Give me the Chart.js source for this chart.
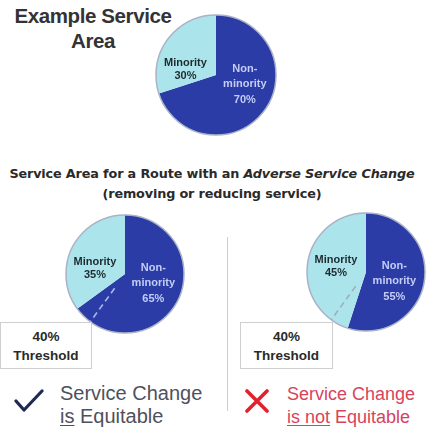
<!DOCTYPE html>
<html>
<head>
<meta charset="utf-8">
<script src="https://cdn.jsdelivr.net/npm/chart.js@4"></script>
<style>
  html, body { margin: 0; padding: 0; background: #fff; overflow: hidden; }
  #stage { position: relative; width: 427px; height: 436px; font-family: "Liberation Sans", Arial, sans-serif; }
  canvas, .txt, .box, .rule, svg { position: absolute; }
  .txt { white-space: nowrap; }
  .title { left: 0; width: 186px; top: 3px; text-align: center; font-weight: bold; font-size: 20.5px; line-height: 25px; color: #333; letter-spacing: -0.4px; }
  .sub { left: 0; width: 424px; top: 164px; text-align: center; font-family: "DejaVu Sans", sans-serif; font-weight: bold; font-size: 12.8px; line-height: 20px; color: #2a2a2a; letter-spacing: -0.15px; }
  .box { border: 1px solid #cfcfcf; background: #fff; text-align: center; font-weight: bold; font-size: 13.5px; line-height: 19px; color: #2a2a2a; padding-top: 4px; box-sizing: border-box; }
  .rule { left: 227px; top: 237px; width: 1px; height: 174px; background: #cdcdcd; }
  .verdict { line-height: 23px; }
  .verdict u { text-decoration-thickness: 1px; text-underline-offset: 2px; }
</style>
</head>
<body>
<div id="stage">
  <div class="txt title">Example Service<br>Area</div>
  <div class="txt sub">Service Area for a Route with an <i>Adverse Service Change</i><br>(removing or reducing service)</div>

  <canvas id="pieExample" width="124" height="124" style="left:154px;top:13px"></canvas>
  <canvas id="pieEquitable" width="122" height="122" style="left:64px;top:213px"></canvas>
  <canvas id="pieInequitable" width="122" height="122" style="left:305px;top:211px"></canvas>

  <div class="rule"></div>

  <div class="box" id="boxLeft" style="left:0px;top:322px;width:92px;height:47px">40%<br>Threshold</div>
  <div class="box" id="boxRight" style="left:240px;top:322px;width:93px;height:47px">40%<br>Threshold</div>

  <svg style="left:14px;top:388px" width="30" height="26" viewBox="0 0 30 26">
    <polyline points="2,13 10,22 28,3" fill="none" stroke="#1f2a52" stroke-width="3.2" stroke-linecap="round" stroke-linejoin="round"/>
  </svg>
  <div class="txt verdict" style="left:60px;top:382px;font-size:20px;color:#50505c">Service Change<br><u>is</u> Equitable</div>

  <svg style="left:244px;top:389px" width="26" height="24" viewBox="0 0 26 24">
    <path d="M3,2 L23,22 M23,2 L3,22" stroke="#e3202e" stroke-width="3.6" stroke-linecap="round"/>
  </svg>
  <div class="txt verdict" style="left:287px;top:383px;font-size:18px;color:#d8435c">Service Change<br><u>is not</u> Equitable</div>
</div>

<script>
// slice order: first slice runs clockwise from 12 o'clock
const categories        = ['Non-minority', 'Minority'];
const exampleShares     = [70, 30];
const equitableShares   = [65, 35];
const inequitableShares = [55, 45];
const thresholdPct      = 40;

const COL_DARK  = '#2b3ca6';
const COL_LIGHT = '#ace4ec';

// outline, dashed 40% marker and in-slice labels
const pieDecor = {
  id: 'pieDecor',
  afterDatasetsDraw(chart, args, opts) {
    const arc = chart.getDatasetMeta(0).data[0];
    if (!arc) return;
    const { x, y, outerRadius: r } = arc;
    const vals = chart.data.datasets[0].data;
    const c = chart.ctx;
    c.save();

    c.beginPath();
    c.arc(x, y, r, 0, Math.PI * 2);
    c.strokeStyle = '#a9b2c6';
    c.lineWidth = 1.5;
    c.stroke();

    if (opts.threshold) {
      const a = -Math.PI / 2 - (opts.threshold / 100) * Math.PI * 2;
      c.beginPath();
      c.setLineDash([6, 4]);
      c.moveTo(x + Math.cos(a) * r * 0.3, y + Math.sin(a) * r * 0.3);
      c.lineTo(x + Math.cos(a) * r, y + Math.sin(a) * r);
      c.strokeStyle = opts.dashColor;
      c.lineWidth = 1.6;
      c.stroke();
      c.setLineDash([]);
    }

    c.textAlign = 'center';
    c.textBaseline = 'middle';
    c.font = 'bold 11px "Liberation Sans", Arial, sans-serif';

    c.fillStyle = '#1d2b2f';
    c.fillText(categories[1], x - r * 0.51, y - r * 0.2);
    c.fillText(vals[1] + '%', x - r * 0.51, y + r * 0.02);

    const nm = categories[0].split('-');
    c.fillStyle = '#c3cdf6';
    c.fillText(nm[0] + '-', x + r * 0.48, y - r * 0.1);
    c.fillText(nm[1], x + r * 0.48, y + r * 0.15);
    c.fillText(vals[0] + '%', x + r * 0.48, y + r * 0.42);
    c.restore();
  }
};

function makePie(id, shares, decor) {
  return new Chart(document.getElementById(id), {
    type: 'pie',
    data: {
      labels: categories,
      datasets: [{
        data: shares,
        backgroundColor: [COL_DARK, COL_LIGHT],
        borderWidth: 0
      }]
    },
    options: {
      responsive: false,
      animation: false,
      layout: { padding: 2 },
      events: [],
      plugins: {
        legend: { display: false },
        tooltip: { enabled: false },
        pieDecor: decor
      }
    },
    plugins: [pieDecor]
  });
}

makePie('pieExample', exampleShares, {});
makePie('pieEquitable', equitableShares, { threshold: thresholdPct, dashColor: '#aab7ee' });
makePie('pieInequitable', inequitableShares, { threshold: thresholdPct, dashColor: '#9fb0b6' });
</script>
</body>
</html>
